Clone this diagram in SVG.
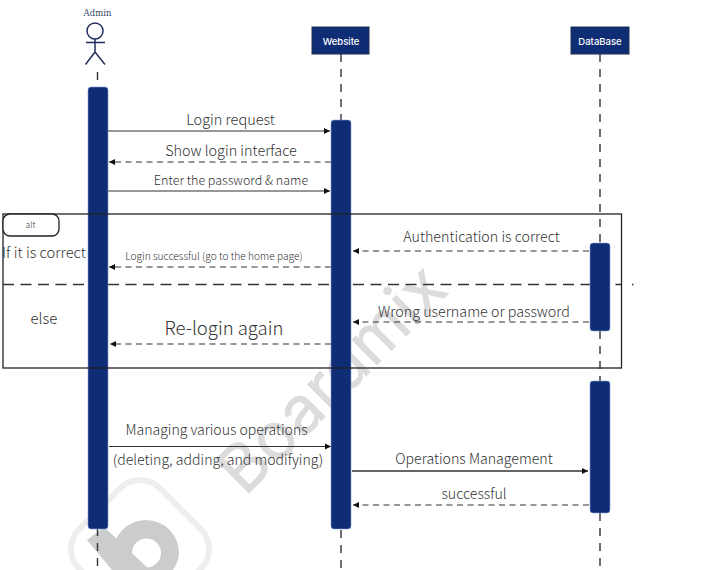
<svg xmlns="http://www.w3.org/2000/svg" width="718" height="570" viewBox="0 0 718 570">
<style>
.t{font-family:"Noto Sans CJK SC","Noto Sans",sans-serif;font-weight:300;fill:#333;text-anchor:middle}
.life{stroke:#333;stroke-width:1.4;stroke-dasharray:8 7;fill:none}
.bar{fill:#0f2d75;stroke:#8aa0d0;stroke-width:.6}
.head{fill:#0f2d75;stroke:#222f4d;stroke-width:1}
.hl{font-family:"Inter","Liberation Sans",sans-serif;font-size:9.500px;font-weight:500;fill:#fff;text-anchor:middle}
.s{stroke:#333;stroke-width:1.2;fill:none;marker-end:url(#a)}
.d{stroke:#333;stroke-width:1.2;stroke-dasharray:6 4.500;fill:none;marker-end:url(#a)}
</style>
<defs><marker id="a" markerUnits="userSpaceOnUse" markerWidth="7" markerHeight="8" refX="6" refY="4" orient="auto"><path d="M0 1L6 4L0 7Z" fill="#111"/></marker></defs>
<rect width="718" height="570" fill="#fff"/>
<g id="watermark">
<text x="245" y="497" transform="rotate(-45 245 497)" font-family="Inter,'Liberation Sans',sans-serif" font-size="65" fill="#dcdcdd" stroke="#dcdcdd" stroke-width=".8">Boardmix</text>
<rect x="83" y="492" width="114" height="114" rx="28" transform="rotate(45 140 549)" fill="none" stroke="#eeeeef" stroke-width="6"/>
<path d="M87 540L104 527L150 570H112Z" fill="#cbcccd"/>
<path fill-rule="evenodd" d="M113 553a33 33 0 1 1 66 0a33 33 0 0 1-6 17H113ZM132 553a14.500 14.500 0 1 0 29 0a14.500 14.500 0 1 0-29 0Z" fill="#cbcccd"/>
</g>
<path id="divider" d="M3 284.500H622M632 284.500H633.500" fill="none" stroke="#333" stroke-width="1.300" stroke-dasharray="11 6.500"/>
<g id="connectors">
<path class="life" d="M97.500 72V88M97.500 528V570"/>
<path class="life" d="M341 54V120M341 530V570"/>
<path class="life" d="M600 54V243M600 331V381M600 513V570"/>
<path class="s" d="M108 131H330"/>
<path class="d" d="M331 162H109"/>
<path class="s" d="M108 191H330"/>
<path class="d" d="M589 251H353"/>
<path class="d" d="M331 267H109"/>
<path class="d" d="M589 322H353"/>
<path class="d" d="M331 344H110"/>
<path class="s" d="M109 446.500H331"/>
<path class="s" style="stroke-width:1.600" d="M352 471H588"/>
<path class="d" d="M589 505H353"/>
</g>
<g id="admin">
<text x="97.500" y="16" font-family="'DejaVu Serif','Liberation Serif',serif" font-size="8.500" fill="#3c4a70" text-anchor="middle">Admin</text>
<g fill="none" stroke="#222f5c" stroke-width="1.500"><circle cx="95" cy="31" r="8"/><path d="M86 42.500H105M95 39V52M85.500 64.500L95 52L105 64.500"/></g>
<rect class="bar" x="88" y="87" width="20" height="442" rx="3"/>
</g>
<g id="website">
<rect class="head" x="312" y="27" width="57" height="27"/>
<text class="hl" x="341" y="45">Website</text>
<rect class="bar" x="331" y="120" width="20" height="409" rx="3"/>
</g>
<g id="database">
<rect class="head" x="571" y="27" width="58" height="27"/>
<text class="hl" x="600" y="45">DataBase</text>
<rect class="bar" x="590" y="243" width="20" height="88" rx="3"/>
<rect class="bar" x="590" y="381" width="20" height="132" rx="3"/>
</g>
<g id="alt">
<rect x="3" y="214" width="618.500" height="154" fill="none" stroke="#222" stroke-width="1.300"/>
<rect x="3" y="214" width="56" height="22" rx="7" fill="#fff" stroke="#222" stroke-width="1.300"/>
<text class="t" x="30.500" y="228" font-size="8.500">alt</text>
</g>
<g id="labels">
<text class="t" x="230.500" y="125" font-size="14.500">Login request</text>
<text class="t" x="231" y="156" font-size="14.400">Show login interface</text>
<text class="t" x="231" y="185" font-size="12.500">Enter the password &amp; name</text>
<text class="t" x="481.500" y="242" font-size="14.250">Authentication is correct</text>
<text class="t" x="44" y="258" font-size="14.700">If it is correct</text>
<text class="t" x="214" y="260" font-size="10.200">Login successful (go to the home page)</text>
<text class="t" x="474" y="317" font-size="14.300">Wrong username or password</text>
<text class="t" x="44" y="324" font-size="15">else</text>
<text class="t" x="224" y="335" font-size="18.500">Re-login again</text>
<text class="t" x="216.500" y="435" font-size="14.050">Managing various operations</text>
<text class="t" x="218" y="465" font-size="14.100">(deleting, adding, and modifying)</text>
<text class="t" x="474" y="464" font-size="14.150">Operations Management</text>
<text class="t" x="474" y="499" font-size="14.200">successful</text>
</g>
</svg>
